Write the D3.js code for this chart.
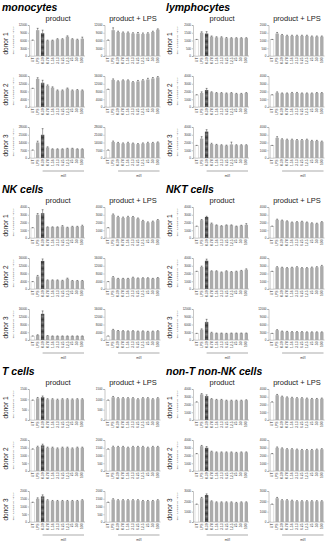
<!DOCTYPE html>
<html>
<head>
<meta charset="utf-8">
<script src="https://d3js.org/d3.v7.min.js"></script>
<style>
  body { margin: 0; background: #fff; }
  svg { display: block; font-family: "Liberation Sans", Arial, sans-serif; }
  .domain { stroke: #8c8c8c; stroke-width: 0.5; }
  .tick line { stroke: #8c8c8c; stroke-width: 0.5; }
  .tick text { fill: #333; font-size: 3px; }
</style>
</head>
<body>
<svg id="chart" width="328" height="544"></svg>
<script>
// x categories (product / product + LPS), concentrations in ml/l
var categories = ["UT", "LPS", "0.39", "0.78", "1.56", "3.13", "6.25", "12.5", "25", "50", "100"];
var cellTypes = ["monocytes", "lymphocytes", "NK cells", "NKT cells", "T cells", "non-T non-NK cells"];

// y tick labels
var ticks1500 = [0, 500, 1000, 1500];
var ticks2000 = [0, 500, 1000, 1500, 2000];
var ticks3000 = [0, 1000, 2000, 3000];
var ticks4000 = [0, 1000, 2000, 3000, 4000];
var ticks12000 = [0, 3000, 6000, 9000, 12000];
var ticks16000 = [0, 4000, 8000, 12000, 16000];
var ticks28000 = [0, 7000, 14000, 21000, 28000];

// monocytes
var monoD1P  = [6000, 10000, 8800, 6000, 6000, 6500, 6500, 7500, 6500, 6300, 6700];
var monoD1PE = [200, 700, 1200, 150, 150, 200, 200, 300, 200, 200, 600];
var monoD1L  = [6000, 10000, 9300, 9000, 9000, 8700, 8700, 8500, 8700, 9300, 10200];
var monoD1LE = [200, 900, 300, 300, 300, 300, 400, 400, 300, 300, 300];
var monoD2P  = [9500, 14500, 12500, 11000, 10000, 8500, 8500, 9500, 8500, 8700, 8500];
var monoD2PE = [200, 600, 1300, 400, 400, 300, 300, 300, 300, 300, 300];
var monoD2L  = [9000, 14000, 13200, 13700, 13700, 12800, 13200, 13700, 14200, 14700, 15300];
var monoD2LE = [200, 500, 300, 300, 300, 300, 500, 400, 600, 500, 400];
var monoD3P  = [7000, 14000, 21000, 9500, 8000, 8000, 8000, 8500, 8500, 8000, 8000];
var monoD3PE = [300, 1200, 5500, 600, 300, 300, 300, 300, 300, 300, 300];
var monoD3L  = [7000, 14500, 13500, 13000, 13500, 13000, 12500, 13000, 13500, 13500, 14000];
var monoD3LE = [300, 800, 600, 600, 700, 500, 500, 600, 700, 600, 500];

// lymphocytes
var lymD1P  = [1050, 1500, 1450, 1250, 1200, 1200, 1150, 1150, 1150, 1150, 1150];
var lymD1PE = [20, 60, 120, 40, 40, 40, 40, 30, 30, 30, 30];
var lymD1L  = [1050, 1450, 1350, 1300, 1300, 1300, 1300, 1300, 1250, 1250, 1250];
var lymD1LE = [20, 70, 40, 40, 40, 40, 40, 40, 40, 40, 40];
var lymD2P  = [1550, 1800, 2200, 1900, 1800, 1800, 1750, 1800, 1700, 1700, 1800];
var lymD2PE = [30, 150, 200, 60, 60, 60, 60, 60, 60, 60, 60];
var lymD2L  = [1550, 1850, 1750, 1750, 1800, 1800, 1750, 1750, 1750, 1800, 1800];
var lymD2LE = [30, 100, 60, 60, 80, 80, 60, 60, 60, 60, 60];
var lymD3P  = [1600, 2500, 3400, 1800, 1700, 1650, 1600, 1750, 1650, 1650, 1650];
var lymD3PE = [30, 250, 250, 100, 60, 60, 60, 300, 60, 60, 60];
var lymD3L  = [1600, 2600, 2400, 2350, 2350, 2300, 2300, 2350, 2200, 2200, 2100];
var lymD3LE = [30, 150, 80, 80, 80, 80, 80, 80, 80, 80, 80];

// NK cells
var nkD1P  = [1300, 3000, 3200, 1400, 1400, 1400, 1500, 1350, 1450, 1450, 1550];
var nkD1PE = [30, 150, 450, 40, 40, 40, 100, 40, 60, 60, 100];
var nkD1L  = [1300, 3000, 2700, 2600, 2700, 2700, 2500, 2200, 2000, 2100, 2300];
var nkD1LE = [30, 100, 100, 100, 100, 80, 80, 80, 80, 80, 80];
var nkD2P  = [3700, 6500, 14500, 4500, 4500, 4500, 4300, 5300, 4200, 4200, 4200];
var nkD2PE = [100, 500, 1000, 200, 200, 200, 200, 300, 200, 200, 200];
var nkD2L  = [3700, 6000, 5300, 5300, 5300, 5800, 5500, 5600, 5600, 5300, 5700];
var nkD2LE = [100, 400, 200, 200, 200, 300, 200, 200, 200, 200, 200];
var nkD3P  = [2000, 2500, 13500, 2200, 2000, 2000, 2000, 2000, 2000, 2000, 2000];
var nkD3PE = [100, 200, 1500, 100, 100, 100, 100, 100, 100, 100, 100];
var nkD3L  = [2000, 5200, 4700, 4600, 4500, 4600, 4400, 4500, 4300, 4400, 4600];
var nkD3LE = [100, 300, 200, 200, 200, 200, 200, 200, 200, 200, 200];

// NKT cells
var nktD1P  = [1500, 2300, 2700, 1850, 1650, 1550, 1650, 1650, 1500, 1600, 1700];
var nktD1PE = [40, 80, 100, 80, 40, 40, 40, 40, 40, 40, 150];
var nktD1L  = [1500, 2350, 2250, 2150, 2000, 2050, 2100, 2000, 1900, 1850, 2050];
var nktD1LE = [40, 80, 60, 60, 60, 60, 60, 60, 60, 60, 60];
var nktD2P  = [2250, 2850, 3650, 2300, 2300, 2150, 2300, 2200, 2250, 2350, 2500];
var nktD2PE = [40, 100, 200, 50, 50, 50, 50, 50, 50, 50, 100];
var nktD2L  = [2250, 2800, 2750, 2700, 2750, 2800, 2700, 2700, 2750, 2800, 2950];
var nktD2LE = [40, 80, 60, 60, 60, 80, 60, 60, 80, 80, 100];
var nktD3P  = [2500, 4000, 7000, 2800, 2600, 2600, 2500, 2600, 2600, 2600, 2600];
var nktD3PE = [80, 300, 1000, 200, 100, 100, 100, 100, 100, 100, 100];
var nktD3L  = [2500, 3800, 3300, 3200, 3100, 3100, 3100, 3000, 3000, 3000, 3000];
var nktD3LE = [80, 200, 150, 150, 150, 150, 150, 150, 150, 150, 150];

// T cells
var tD1P  = [950, 1050, 1100, 1000, 1000, 980, 1000, 1000, 990, 1000, 1000];
var tD1PE = [20, 40, 60, 30, 30, 30, 30, 30, 30, 30, 30];
var tD1L  = [950, 1100, 1050, 1050, 1050, 1050, 1000, 1050, 1050, 1000, 1050];
var tD1LE = [20, 40, 30, 30, 30, 30, 30, 30, 30, 30, 30];
var tD2P  = [1400, 1550, 1650, 1500, 1500, 1450, 1500, 1500, 1450, 1500, 1500];
var tD2PE = [30, 50, 80, 40, 40, 40, 40, 40, 40, 40, 40];
var tD2L  = [1400, 1550, 1550, 1550, 1500, 1550, 1550, 1550, 1500, 1550, 1550];
var tD2LE = [30, 50, 40, 40, 40, 40, 40, 40, 40, 40, 40];
var tD3P  = [1250, 1500, 1650, 1400, 1350, 1350, 1350, 1350, 1350, 1350, 1400];
var tD3PE = [30, 60, 100, 40, 40, 40, 40, 40, 40, 40, 40];
var tD3L  = [1250, 1450, 1400, 1400, 1400, 1400, 1400, 1350, 1350, 1350, 1400];
var tD3LE = [30, 50, 40, 40, 40, 40, 40, 40, 40, 40, 40];

// non-T non-NK cells
var oD1P  = [2300, 3300, 3100, 2700, 2600, 2600, 2500, 2500, 2500, 2500, 2550];
var oD1PE = [50, 100, 150, 60, 60, 60, 60, 60, 60, 60, 60];
var oD1L  = [2300, 3200, 3000, 2900, 2850, 2800, 2800, 2750, 2700, 2700, 2750];
var oD1LE = [50, 100, 80, 80, 80, 80, 80, 80, 80, 80, 80];
var oD2P  = [2200, 3200, 3000, 2500, 2400, 2400, 2400, 2400, 2350, 2400, 2400];
var oD2PE = [50, 100, 150, 60, 60, 60, 60, 60, 60, 60, 60];
var oD2L  = [2200, 3000, 2900, 2800, 2800, 2750, 2700, 2700, 2700, 2750, 2800];
var oD2LE = [50, 100, 80, 80, 80, 80, 80, 80, 80, 80, 80];
var oD3P  = [1700, 2300, 2600, 2000, 1900, 1900, 1900, 1900, 1850, 1900, 1900];
var oD3PE = [40, 80, 120, 50, 50, 50, 50, 50, 50, 50, 50];
var oD3L  = [1700, 2300, 2100, 2100, 2050, 2000, 2000, 2000, 2000, 2000, 2000];
var oD3LE = [40, 80, 60, 60, 60, 60, 60, 60, 60, 60, 60];

// cell, donor, product, err, product+LPS, err, ticks product, ticks LPS
var table = [
  ["monocytes", 1, monoD1P, monoD1PE, monoD1L, monoD1LE, ticks12000, ticks12000],
  ["monocytes", 2, monoD2P, monoD2PE, monoD2L, monoD2LE, ticks16000, ticks16000],
  ["monocytes", 3, monoD3P, monoD3PE, monoD3L, monoD3LE, ticks28000, ticks28000],
  ["lymphocytes", 1, lymD1P, lymD1PE, lymD1L, lymD1LE, ticks2000, ticks2000],
  ["lymphocytes", 2, lymD2P, lymD2PE, lymD2L, lymD2LE, ticks4000, ticks4000],
  ["lymphocytes", 3, lymD3P, lymD3PE, lymD3L, lymD3LE, ticks4000, ticks4000],
  ["NK cells", 1, nkD1P, nkD1PE, nkD1L, nkD1LE, ticks4000, ticks4000],
  ["NK cells", 2, nkD2P, nkD2PE, nkD2L, nkD2LE, ticks16000, ticks16000],
  ["NK cells", 3, nkD3P, nkD3PE, nkD3L, nkD3LE, ticks16000, ticks16000],
  ["NKT cells", 1, nktD1P, nktD1PE, nktD1L, nktD1LE, ticks4000, ticks4000],
  ["NKT cells", 2, nktD2P, nktD2PE, nktD2L, nktD2LE, ticks4000, ticks4000],
  ["NKT cells", 3, nktD3P, nktD3PE, nktD3L, nktD3LE, ticks12000, ticks12000],
  ["T cells", 1, tD1P, tD1PE, tD1L, tD1LE, ticks1500, ticks1500],
  ["T cells", 2, tD2P, tD2PE, tD2L, tD2LE, ticks2000, ticks2000],
  ["T cells", 3, tD3P, tD3PE, tD3L, tD3LE, ticks2000, ticks2000],
  ["non-T non-NK cells", 1, oD1P, oD1PE, oD1L, oD1LE, ticks4000, ticks4000],
  ["non-T non-NK cells", 2, oD2P, oD2PE, oD2L, oD2LE, ticks4000, ticks4000],
  ["non-T non-NK cells", 3, oD3P, oD3PE, oD3L, oD3LE, ticks3000, ticks3000]
];

var svg = d3.select("#chart");
var sectionH = 182, colW = 164, plotH = 31, donorGap = 51;

// dotted dark fill for the third product bar
var pat = svg.append("defs").append("pattern")
  .attr("id", "dots").attr("width", 1.2).attr("height", 1.2)
  .attr("patternUnits", "userSpaceOnUse");
pat.append("rect").attr("width", 1.2).attr("height", 1.2).attr("fill", "#3d3d3d");
pat.append("rect").attr("width", 0.5).attr("height", 0.5).attr("fill", "#9a9a9a");

var x = d3.scaleBand().domain(categories).range([1.5, 55.5]).paddingInner(0.32).paddingOuter(0.1);

// section titles and column headers
cellTypes.forEach(function (c, i) {
  var ox = (i % 2) * colW, oy = Math.floor(i / 2) * sectionH;
  svg.append("text").attr("x", ox + 2).attr("y", oy + 10.5)
    .attr("font-size", 10.5).attr("font-weight", "bold").attr("font-style", "italic")
    .attr("fill", "#000")
    .text(c);
  svg.append("text").attr("x", ox + 58).attr("y", oy + 20.5)
    .attr("font-size", 7.5).attr("text-anchor", "middle").attr("fill", "#222").text("product");
  svg.append("text").attr("x", ox + 133).attr("y", oy + 20.5)
    .attr("font-size", 7.5).attr("text-anchor", "middle").attr("fill", "#222").text("product + LPS");
});

function drawPanel(g, vals, errs, ticks, isProduct, showMl) {
  var y = d3.scaleLinear().domain([0, ticks[ticks.length - 1]]).range([plotH, 0]);

  g.append("g").call(d3.axisLeft(y).tickValues(ticks).tickSize(1.2).tickPadding(0.8).tickFormat(d3.format("d")));
  g.append("line").attr("x1", 0).attr("x2", 56).attr("y1", plotH).attr("y2", plotH)
    .attr("stroke", "#8c8c8c").attr("stroke-width", 0.5);

  g.selectAll("rect.bar").data(vals).enter().append("rect")
    .attr("class", "bar")
    .attr("x", (d, i) => x(categories[i]))
    .attr("width", x.bandwidth())
    .attr("y", d => y(d))
    .attr("height", d => plotH - y(d))
    .attr("fill", (d, i) => i == 0 ? "#ffffff" : (isProduct && i == 2 ? "url(#dots)" : "#ababab"))
    .attr("stroke", (d, i) => i == 0 ? "#b0b0b0" : "none")
    .attr("stroke-width", 0.4);

  // error bars
  var eb = g.selectAll("g.err").data(vals).enter().append("g").attr("class", "err");
  eb.append("line")
    .attr("x1", (d, i) => x(categories[i]) + x.bandwidth() / 2)
    .attr("x2", (d, i) => x(categories[i]) + x.bandwidth() / 2)
    .attr("y1", d => y(d))
    .attr("y2", (d, i) => y(d + errs[i]))
    .attr("stroke", "#222").attr("stroke-width", 0.4);
  eb.append("line")
    .attr("x1", (d, i) => x(categories[i]) + x.bandwidth() / 2 - 0.9)
    .attr("x2", (d, i) => x(categories[i]) + x.bandwidth() / 2 + 0.9)
    .attr("y1", (d, i) => y(d + errs[i]))
    .attr("y2", (d, i) => y(d + errs[i]))
    .attr("stroke", "#222").attr("stroke-width", 0.5);

  // rotated category labels
  g.selectAll("text.cat").data(categories).enter().append("text")
    .attr("class", "cat")
    .attr("transform", d => "translate(" + (x(d) + x.bandwidth() / 2 + 1.1) + "," + (plotH + 1.5) + ") rotate(-90)")
    .attr("text-anchor", "end")
    .attr("font-size", 3.3)
    .attr("fill", "#333")
    .text(d => d);

  if (showMl) {
    var x0 = x(categories[2]) + x.bandwidth() / 2;
    var x1 = x(categories[categories.length - 1]) + x.bandwidth();
    g.append("line").attr("x1", x0).attr("x2", x1).attr("y1", plotH + 13).attr("y2", plotH + 13)
      .attr("stroke", "#555").attr("stroke-width", 0.5);
    g.append("text").attr("x", (x0 + x1) / 2).attr("y", plotH + 18.5)
      .attr("text-anchor", "middle").attr("font-size", 3.3).attr("fill", "#333").text("ml/l");
  }
}

table.forEach(function (row) {
  var ci = cellTypes.indexOf(row[0]);
  var ox = (ci % 2) * colW, oy = Math.floor(ci / 2) * sectionH;
  var top = oy + 25 + (row[1] - 1) * donorGap;

  svg.append("text")
    .attr("transform", "translate(" + (ox + 8) + "," + (top + plotH / 2 + 3) + ") rotate(-90)")
    .attr("text-anchor", "middle").attr("font-size", 6.5).attr("fill", "#222").text("donor " + row[1]);
  svg.append("text")
    .attr("transform", "translate(" + (ox + 14) + "," + (top + plotH / 2) + ") rotate(-90)")
    .attr("text-anchor", "middle").attr("font-size", 2.3).attr("fill", "#404040")
    .text("mean fluorescence intensity");

  var gp = svg.append("g").attr("transform", "translate(" + (ox + 29) + "," + top + ")");
  drawPanel(gp, row[2], row[3], row[6], true, row[1] == 3);
  var gl = svg.append("g").attr("transform", "translate(" + (ox + 104.5) + "," + top + ")");
  drawPanel(gl, row[4], row[5], row[7], false, row[1] == 3);
});
</script>
</body>
</html>
